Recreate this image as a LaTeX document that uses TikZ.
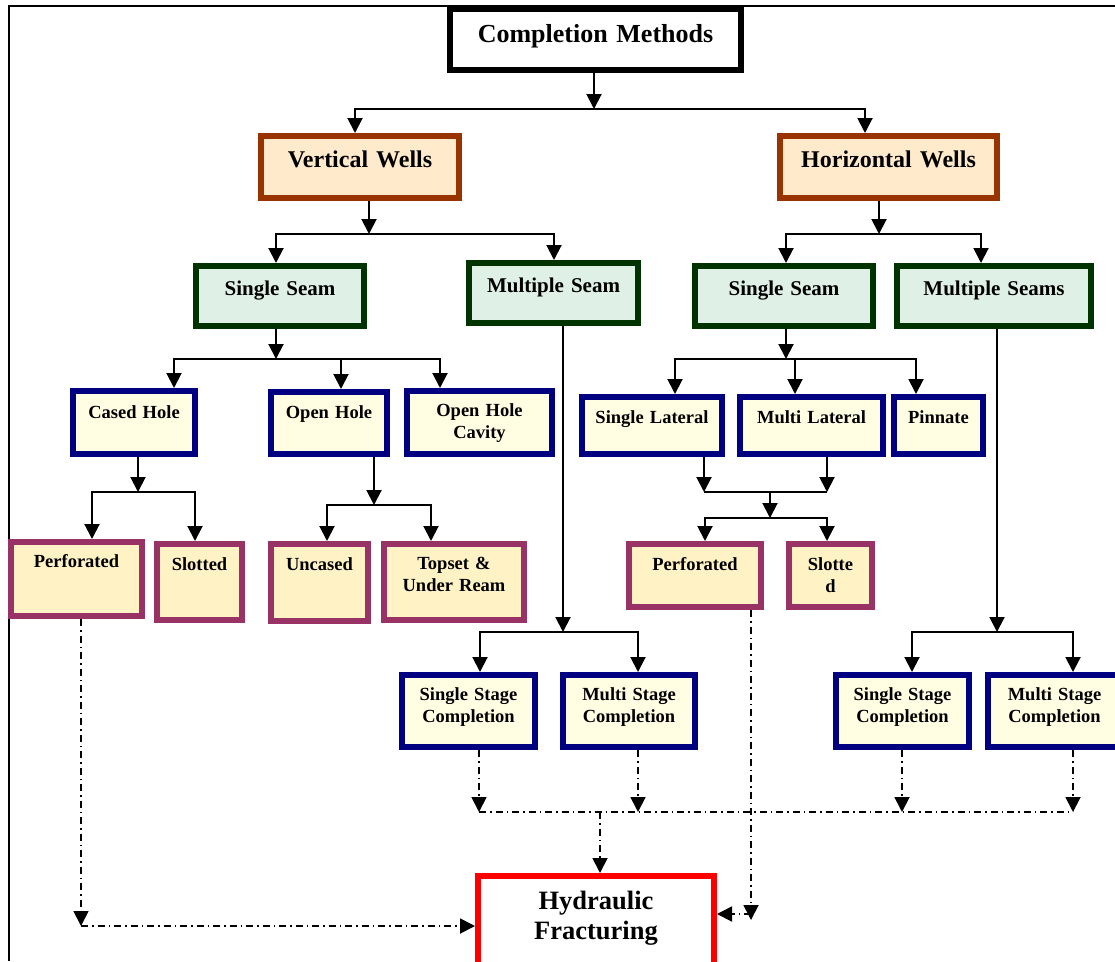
\documentclass[tikz,border=0pt]{standalone}
\usepackage{fontspec}
\setmainfont{Liberation Serif}
\usetikzlibrary{arrows.meta}
\definecolor{wellline}{HTML}{993300}
\definecolor{wellfill}{HTML}{FFEBCC}
\definecolor{seamline}{HTML}{003300}
\definecolor{seamfill}{HTML}{DFF0E6}
\definecolor{typeline}{HTML}{000080}
\definecolor{typefill}{HTML}{FFFDE2}
\definecolor{endline}{HTML}{993366}
\definecolor{endfill}{HTML}{FFF3C6}
\tikzset{
>={Triangle[length=15pt,width=15pt]}, % filled arrow heads
box/.style={draw, line width=6pt, outer sep=3pt, inner sep=0pt, anchor=north west, align=center}, % thick framed text box
dims/.style n args={3}{text width=#1pt, text height=#2pt, text depth=#3pt}, % width, space above and below the first baseline
headbox/.style={box, fill=white, font=\fontsize{26}{30}\selectfont\bfseries},
wellbox/.style={box, draw=wellline, fill=wellfill, font=\fontsize{24}{28}\selectfont\bfseries},
seambox/.style={box, draw=seamline, fill=seamfill, font=\fontsize{21}{25}\selectfont\bfseries},
typebox/.style={box, draw=typeline, fill=typefill, font=\fontsize{18.5}{22}\selectfont\bfseries},
endbox/.style={box, draw=endline, fill=endfill, font=\fontsize{18.5}{22}\selectfont\bfseries},
fracbox/.style={box, draw=red, fill=white, font=\fontsize{26.5}{30}\selectfont\bfseries},
solidlink/.style={line width=2pt},
dashlink/.style={line width=1.8pt, dash pattern=on 7pt off 4pt on 1.5pt off 4pt},
}
\begin{document}
\begin{tikzpicture}[x=1pt, y=-1pt]
    \useasboundingbox (0,0) rectangle (1115,961);
    \draw[line width=1.5pt] (9,961) -- (9,6) -- (1115,6);

    \node[headbox, dims={291}{33}{28}] (cm) at (447,6) {Completion Methods};
    \node[wellbox, dims={198}{31}{31}] (vw) at (258,133) {Vertical Wells};
    \node[wellbox, dims={217}{31}{31}] (hw) at (777,133) {Horizontal Wells};
    \node[seambox, dims={168}{29}{31}] (ssv) at (193,263) {Single Seam};
    \node[seambox, dims={169}{29}{31}] (msv) at (466,260) {Multiple Seam};
    \node[seambox, dims={178}{29}{31}] (ssh) at (692,263) {Single Seam};
    \node[seambox, dims={194}{29}{31}] (msh) at (894,263) {Multiple Seams};
    \node[typebox, dims={122}{27}{36}] (ch) at (70,388) {Cased Hole};
    \node[typebox, dims={116}{26}{36}] (oh) at (268,389) {Open Hole};
    \node[typebox, dims={145}{25}{38}] (ohc) at (404,388) {Open Hole\\Cavity};
    \node[typebox, dims={140}{26}{31}] (sl) at (579,394) {Single Lateral};
    \node[typebox, dims={143}{26}{31}] (ml) at (737,394) {Multi Lateral};
    \node[typebox, dims={89}{26}{31}] (pin) at (891,394) {Pinnate};
    \node[endbox, dims={131}{25}{49}] (pv) at (8,539) {Perforated};
    \node[endbox, dims={85}{26}{50}] (slv) at (154,541) {Slotted};
    \node[endbox, dims={97}{26}{51}] (unc) at (268,541) {Uncased};
    \node[endbox, dims={140}{25}{51}] (tur) at (381,541) {Topset \&\\Under Ream};
    \node[endbox, dims={132}{26}{37}] (ph) at (626,541) {Perforated};
    \node[endbox, dims={83}{26}{37}] (sh) at (786,541) {Slotte\\d};
    \node[typebox, dims={133}{25}{47}] (ssc1) at (399,672) {Single Stage\\Completion};
    \node[typebox, dims={132}{25}{47}] (msc1) at (560,672) {Multi Stage\\Completion};
    \node[typebox, dims={133}{25}{47}] (ssc2) at (833,672) {Single Stage\\Completion};
    \node[typebox, dims={133}{25}{47}] (msc2) at (985,672) {Multi Stage\\Completion};
    \node[fracbox, dims={236}{33}{90}] (hf) at (475,873) {Hydraulic\\Fracturing};

    \coordinate (a0) at (594,109);
    \coordinate (a1) at (355,109);
    \coordinate (a2) at (865,109);
    \coordinate (b0) at (369,234);
    \coordinate (b1) at (276,234);
    \coordinate (b2) at (554,234);
    \coordinate (c0) at (879,234);
    \coordinate (c1) at (786,234);
    \coordinate (c2) at (981,234);
    \coordinate (d0) at (276,359);
    \coordinate (d1) at (174,359);
    \coordinate (d2) at (341,359);
    \coordinate (d3) at (440,359);
    \coordinate (e0) at (138,492);
    \coordinate (e1) at (92,492);
    \coordinate (e2) at (195,492);
    \coordinate (f0) at (374,505);
    \coordinate (f1) at (327,505);
    \coordinate (f2) at (431,505);
    \coordinate (g0) at (563,632);
    \coordinate (g1) at (480,632);
    \coordinate (g2) at (638,632);
    \coordinate (h0) at (786,359);
    \coordinate (h1) at (675,359);
    \coordinate (h2) at (795,359);
    \coordinate (h3) at (916,359);
    \coordinate (i0) at (770,492);
    \coordinate (i1) at (704,492);
    \coordinate (i2) at (827,492);
    \coordinate (k0) at (770,518);
    \coordinate (k1) at (705,518);
    \coordinate (k2) at (827,518);
    \coordinate (j0) at (997,632);
    \coordinate (j1) at (912,632);
    \coordinate (j2) at (1073,632);
    \coordinate (m0) at (600,812);
    \coordinate (m1) at (479,812);
    \coordinate (m2) at (638,812);
    \coordinate (m3) at (902,812);
    \coordinate (m4) at (1073,812);
    \coordinate (n1) at (81,926);
    \coordinate (p1) at (751,920);
    \coordinate (p2) at (751,914);

    \draw[solidlink, ->] (cm.south -| a0) -- (a0);
    \draw[solidlink, <->] (a1 |- vw.north) -- (a1) -- (a2) -- (a2 |- hw.north);
    \draw[solidlink, ->] (vw.south -| b0) -- (b0);
    \draw[solidlink, <->] (b1 |- ssv.north) -- (b1) -- (b2) -- (b2 |- msv.north);
    \draw[solidlink, ->] (hw.south -| c0) -- (c0);
    \draw[solidlink, <->] (c1 |- ssh.north) -- (c1) -- (c2) -- (c2 |- msh.north);
    \draw[solidlink, ->] (ssv.south -| d0) -- (d0);
    \draw[solidlink, <->] (d1 |- ch.north) -- (d1) -- (d3) -- (d3 |- ohc.north);
    \draw[solidlink, ->] (d2) -- (d2 |- oh.north);
    \draw[solidlink, ->] (ch.south -| e0) -- (e0);
    \draw[solidlink, <->] (e1 |- pv.north) -- (e1) -- (e2) -- (e2 |- slv.north);
    \draw[solidlink, ->] (oh.south -| f0) -- (f0);
    \draw[solidlink, <->] (f1 |- unc.north) -- (f1) -- (f2) -- (f2 |- tur.north);
    \draw[solidlink, ->] (msv.south -| g0) -- (g0);
    \draw[solidlink, <->] (g1 |- ssc1.north) -- (g1) -- (g2) -- (g2 |- msc1.north);
    \draw[solidlink, ->] (ssh.south -| h0) -- (h0);
    \draw[solidlink, <->] (h1 |- sl.north) -- (h1) -- (h3) -- (h3 |- pin.north);
    \draw[solidlink, ->] (h2) -- (h2 |- ml.north);
    \draw[solidlink, ->] (sl.south -| i1) -- (i1);
    \draw[solidlink, ->] (ml.south -| i2) -- (i2);
    \draw[solidlink] (i1) -- (i2);
    \draw[solidlink, ->] (i0) -- (k0);
    \draw[solidlink, <->] (k1 |- ph.north) -- (k1) -- (k2) -- (k2 |- sh.north);
    \draw[solidlink, ->] (msh.south -| j0) -- (j0);
    \draw[solidlink, <->] (j1 |- ssc2.north) -- (j1) -- (j2) -- (j2 |- msc2.north);

    \draw[dashlink, ->] (ssc1.south -| m1) -- (m1);
    \draw[dashlink, ->] (msc1.south -| m2) -- (m2);
    \draw[dashlink, ->] (ssc2.south -| m3) -- (m3);
    \draw[dashlink, ->] (msc2.south -| m4) -- (m4);
    \draw[dashlink] (m1) -- (m4);
    \draw[dashlink, ->] (m0) -- (m0 |- hf.north);
    \draw[dashlink, ->] (pv.south -| n1) -- (n1);
    \draw[dashlink, ->] (n1) -- (n1 -| hf.west);
    \draw[dashlink, ->] (ph.south -| p1) -- (p1);
    \draw[dashlink, ->] (p2) -- (p2 -| hf.east);
\end{tikzpicture}
\end{document}
